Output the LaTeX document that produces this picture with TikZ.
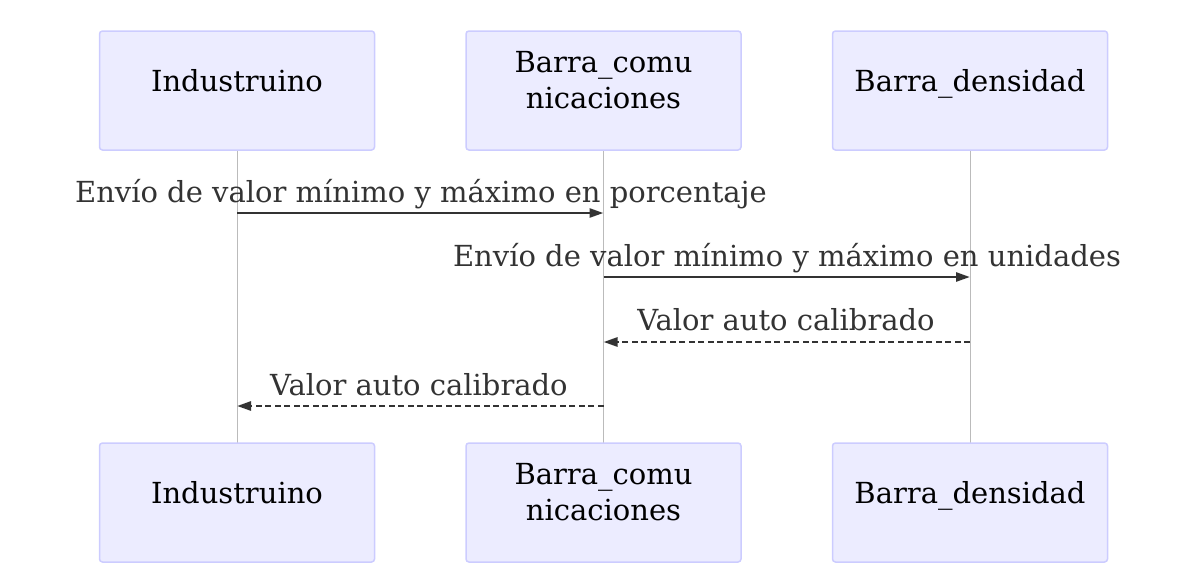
\documentclass[tikz,border=0pt]{standalone}
\usepackage{fontspec}
\setmainfont{DejaVu Serif}
\usetikzlibrary{arrows.meta}
\definecolor{actfill}{HTML}{ECECFF}
\definecolor{actdraw}{HTML}{CCCCFF}
\definecolor{msgcol}{HTML}{333333}
\definecolor{lifecol}{HTML}{BBBBBB}
\tikzset{
  actor/.style={draw=actdraw, fill=actfill, line width=1.5pt, rounded corners=3pt, minimum width=275pt, minimum height=119pt, inner sep=0pt},
  acttext/.style={anchor=base, font=\fontsize{29pt}{36pt}\selectfont, text=black, align=center},
  lifeline/.style={draw=lifecol, line width=1pt},
  msg/.style={draw=msgcol, line width=2.6pt, -{Triangle[length=14pt,width=9pt]}},
  reply/.style={msg, dash pattern=on 6pt off 3.5pt},
  msgtext/.style={anchor=base, font=\fontsize{29pt}{34pt}\selectfont, text=msgcol}
}
\begin{document}
\begin{tikzpicture}[x=1pt,y=-1pt]
\useasboundingbox (0,0) rectangle (1200,576);
% lifelines
\coordinate (l1t) at (237,150); \coordinate (l1b) at (237,443);
\coordinate (l2t) at (603.5,150); \coordinate (l2b) at (603.5,443);
\coordinate (l3t) at (970,150); \coordinate (l3b) at (970,443);
\draw[lifeline] (l1t) -- (l1b);
\draw[lifeline] (l2t) -- (l2b);
\draw[lifeline] (l3t) -- (l3b);
% top actors
\node[actor] (a1) at (237,90.5) {};
\node[actor] (a2) at (603.5,90.5) {};
\node[actor] (a3) at (970,90.5) {};
\node[acttext] (t1) at (237,91) {Industruino};
\node[acttext] (t2) at (603.5,72) {Barra\_comu};
\node[acttext] (t2b) at (603.5,108) {nicaciones};
\node[acttext] (t3) at (970,91) {Barra\_densidad};
% bottom actors
\node[actor] (b1) at (237,502.5) {};
\node[actor] (b2) at (603.5,502.5) {};
\node[actor] (b3) at (970,502.5) {};
\node[acttext] (u1) at (237,503) {Industruino};
\node[acttext] (u2) at (603.5,484) {Barra\_comu};
\node[acttext] (u2b) at (603.5,520) {nicaciones};
\node[acttext] (u3) at (970,503) {Barra\_densidad};
% message points
\coordinate (m1s) at (237,213); \coordinate (m1e) at (603.5,213);
\coordinate (m2s) at (603.5,277); \coordinate (m2e) at (970,277);
\coordinate (m3s) at (970,342); \coordinate (m3e) at (603.5,342);
\coordinate (m4s) at (603.5,406); \coordinate (m4e) at (237,406);
\draw[msg] (m1s) -- (m1e);
\draw[msg] (m2s) -- (m2e);
\draw[reply] (m3s) -- (m3e);
\draw[reply] (m4s) -- (m4e);
\node[msgtext] (x1) at (421,202) {Envío de valor mínimo y máximo en porcentaje};
\node[msgtext] (x2) at (787,266) {Envío de valor mínimo y máximo en unidades};
\node[msgtext] (x3) at (786,330) {Valor auto calibrado};
\node[msgtext] (x4) at (419,395) {Valor auto calibrado};
\end{tikzpicture}
\end{document}
